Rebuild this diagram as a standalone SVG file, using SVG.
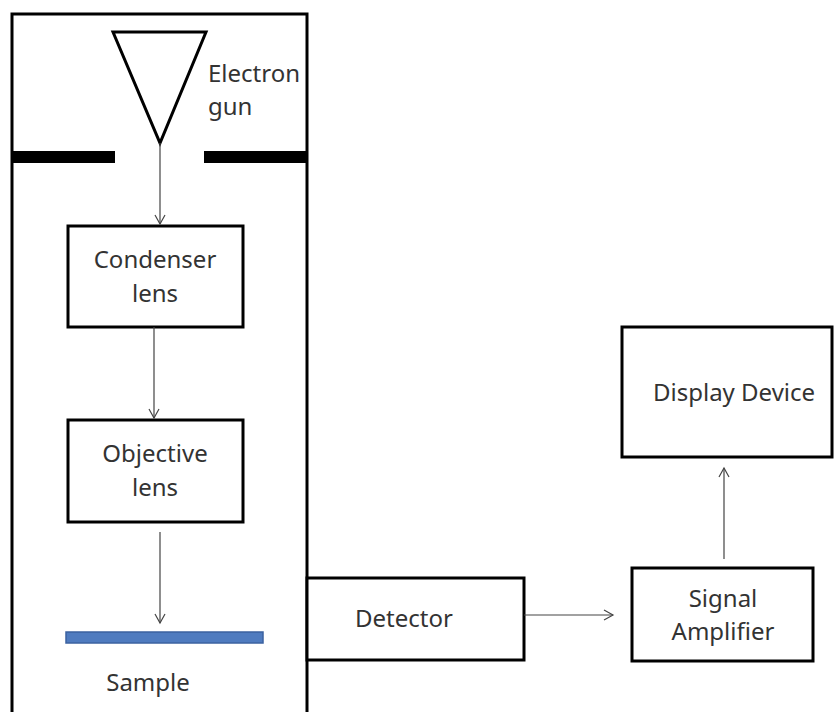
<svg xmlns="http://www.w3.org/2000/svg" width="835" height="712" viewBox="0 0 835 712">
<style>
.box{fill:#fff;stroke:#000;stroke-width:3}
.t{font-family:"Noto Sans","Open Sans",sans-serif;font-size:24px;fill:#333}
.c{text-anchor:middle}
.conn{stroke:#444;stroke-width:1.2;fill:none}
</style>
<defs>
<marker id="arr" markerWidth="12" markerHeight="12" refX="10" refY="6" orient="auto" markerUnits="userSpaceOnUse">
<path d="M1,1 L10,6 L1,11" fill="none" stroke="#444" stroke-width="1.2"/>
</marker>
</defs>
<rect width="835" height="712" fill="#fff"/>
<g id="column">
<rect x="12" y="14" width="295" height="720" fill="none" stroke="#000" stroke-width="3"/>
<rect x="12" y="151" width="103" height="12" fill="#000"/>
<rect x="204" y="151" width="103" height="12" fill="#000"/>
</g>
<g id="electron-gun">
<polygon points="113,32 206,32 160,143" fill="none" stroke="#000" stroke-width="3" stroke-linejoin="miter"/>
<text class="t" x="208" y="82">Electron</text>
<text class="t" x="208" y="115">gun</text>
</g>
<g id="condenser-lens">
<rect class="box" x="68" y="226" width="175" height="101"/>
<text class="t c" x="155" y="268">Condenser</text>
<text class="t c" x="155" y="302">lens</text>
</g>
<g id="objective-lens">
<rect class="box" x="68" y="420" width="175" height="102"/>
<text class="t c" x="155" y="462">Objective</text>
<text class="t c" x="155" y="496">lens</text>
</g>
<g id="sample">
<rect x="66" y="632" width="197" height="11" fill="#4f7bbf" stroke="#3b62a0" stroke-width="1.5"/>
<text class="t c" x="148" y="691">Sample</text>
</g>
<g id="detector">
<rect class="box" x="307" y="578" width="217" height="82"/>
<text class="t" x="355" y="627">Detector</text>
</g>
<g id="signal-amplifier">
<rect class="box" x="632" y="568" width="181" height="93"/>
<text class="t c" x="723" y="607">Signal</text>
<text class="t c" x="723" y="640">Amplifier</text>
</g>
<g id="display-device">
<rect class="box" x="622" y="327" width="210" height="130"/>
<text class="t" x="653" y="401">Display Device</text>
</g>
<g id="connectors">
<line class="conn" x1="160" y1="143" x2="160" y2="224" marker-end="url(#arr)"/>
<line class="conn" x1="154" y1="327" x2="154" y2="418" marker-end="url(#arr)"/>
<line class="conn" x1="160" y1="532" x2="160" y2="623" marker-end="url(#arr)"/>
<line class="conn" x1="524" y1="615" x2="613" y2="615" marker-end="url(#arr)"/>
<line class="conn" x1="724" y1="559" x2="724" y2="468" marker-end="url(#arr)"/>
</g>
</svg>
